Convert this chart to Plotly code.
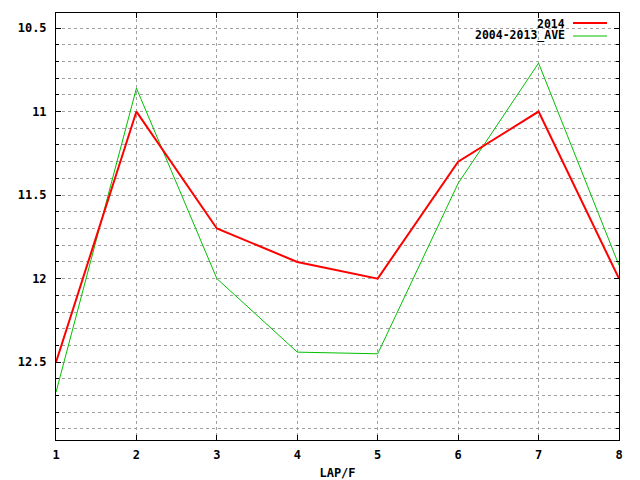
import plotly.graph_objects as go

laps = [1, 2, 3, 4, 5, 6, 7, 8]
series_2014 = [12.5, 11.0, 11.70, 11.90, 12.0, 11.30, 11.0, 12.0]
series_ave = [12.68, 10.86, 12.0, 12.44, 12.45, 11.43, 10.71, 11.92]
name_2014 = "2014"
name_ave = "2004-2013_AVE"
x_title = "LAP/F"

FONT = "DejaVu Sans Mono"

fig = go.Figure()
fig.add_trace(go.Scatter(x=laps, y=series_ave, mode="lines", name=name_ave,
                         line=dict(color="#00c000", width=1)))
fig.add_trace(go.Scatter(x=laps, y=series_2014, mode="lines", name=name_2014,
                         line=dict(color="#ff0000", width=2)))

axis_common = dict(
    showline=True, linecolor="black", linewidth=1, mirror="allticks",
    ticks="inside", tickcolor="black", ticklen=5, tickwidth=1,
    showgrid=True, gridcolor="#a0a0a0", gridwidth=1, griddash="3px,3px",
    zeroline=False, automargin=False,
    tickfont=dict(family=FONT, size=12, color="black", weight="bold"),
)

fig.update_xaxes(range=[1, 8], tick0=1, dtick=1, ticklabelstandoff=4,
                 title=dict(text=x_title, font=dict(family=FONT, size=12, color="black", weight="bold"),
                            standoff=8),
                 **axis_common)
fig.update_yaxes(range=[12.966, 10.41], tick0=10.5, dtick=0.5, ticklabelstandoff=6,
                 minor=dict(dtick=0.1, tick0=10.5, ticks="inside", ticklen=3, tickcolor="black",
                            showgrid=True, gridcolor="#a0a0a0", gridwidth=1, griddash="3px,3px"),
                 **axis_common)

# custom gnuplot-style legend (text right, sample line at right)
legend_items = [(name_2014, "#ff0000", 2, 23), (name_ave, "#00c000", 1, 36)]
W, H = 640, 480
for label, color, width, ypx in legend_items:
    fig.add_annotation(xref="paper", yref="paper", x=(566 - 56) / (619 - 56),
                       y=(440 - ypx) / (440 - 13), text=label, showarrow=False,
                       xanchor="right", yanchor="middle", borderpad=0, height=13,
                       valign="middle",
                       font=dict(family=FONT, size=11.5, color="black", weight="bold"))
    fig.add_shape(type="line", xref="paper", yref="paper",
                  x0=(573 - 56) / (619 - 56), x1=(607 - 56) / (619 - 56),
                  y0=(440 - ypx) / (440 - 13), y1=(440 - ypx) / (440 - 13),
                  line=dict(color=color, width=width))

fig.update_layout(
    width=W, height=H, showlegend=False,
    margin=dict(l=56, r=21, t=13, b=40, autoexpand=False),
    plot_bgcolor="white", paper_bgcolor="white",
)

fig.write_html("out.html", config={"displayModeBar": False},
               post_script="document.body.style.margin='0';")
